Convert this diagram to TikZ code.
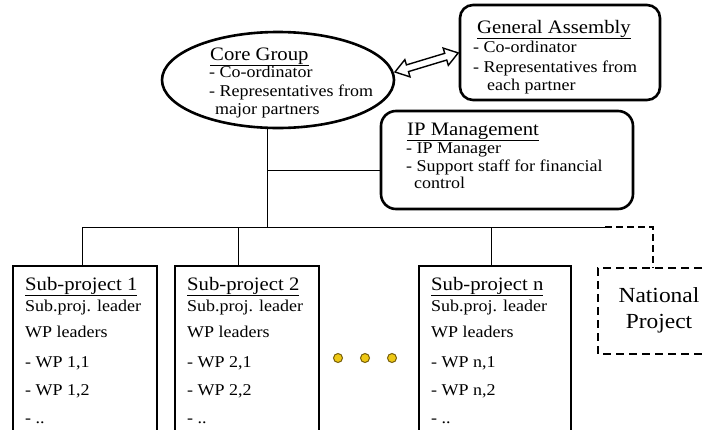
\documentclass[tikz,border=0pt]{standalone}
\usepackage{fontspec}
\setmainfont{Liberation Serif}[FakeStretch=1.09]
\usetikzlibrary{shapes.geometric}
\definecolor{dotfill}{RGB}{238,200,20}
\definecolor{dotrim}{RGB}{120,95,10}
\tikzset{
  thickline/.style={draw=black, line width=2.6pt},
  roundbox/.style={thickline, rounded corners=13pt, inner sep=0pt},
  spbox/.style={draw=black, line width=1.2pt, inner sep=0pt, minimum height=174pt},
  natline/.style={draw=black, line width=2pt, dash pattern=on 8pt off 5pt},
  conn/.style={draw=black, line width=1pt},
  dconn/.style={draw=black, line width=1.4pt, dash pattern=on 7pt off 4pt},
  txt/.style={anchor=base west, inner sep=0pt, font=\fontsize{16.5}{18}\selectfont},
  hd/.style={anchor=base west, inner sep=0pt, font=\fontsize{19}{21}\selectfont},
  nattxt/.style={anchor=base, inner sep=0pt, font=\fontsize{21.5}{24}\selectfont},
  yellowdot/.style={circle, fill=dotfill, draw=dotrim, line width=1pt, minimum size=9pt, inner sep=0pt},
  hollowarrow/.style={draw=black, line width=1.4pt, fill=white, line join=miter}
}
\begin{document}
\begin{tikzpicture}[x=1pt,y=-1pt]
\useasboundingbox (0,0) rectangle (707,429);
\clip (0,0) rectangle (707,429);
\fill[white] (0,0) rectangle (707,429);

% main shapes
\node[ellipse, thickline, minimum width=232pt, minimum height=96pt, inner sep=0pt] (core) at (278,80) {};
\node[roundbox, minimum width=200pt, minimum height=95pt] (ga) at (560,52.5) {};
\node[roundbox, rounded corners=15pt, minimum width=252pt, minimum height=98pt] (ip) at (507,160) {};
\node[spbox, minimum width=144pt] (sp1) at (85,353) {};
\node[spbox, minimum width=144pt] (sp2) at (247,353) {};
\node[spbox, minimum width=152pt] (spn) at (495,353) {};
\node[inner sep=0pt, outer sep=0pt, minimum width=130pt, minimum height=86pt, anchor=west] (nat) at (598,311) {};
\draw[natline] (nat.north east) -- (nat.north west) -- (nat.south west) -- (nat.south east);

% hollow double arrow between core group and general assembly
\coordinate (arrA) at (395,72);
\begin{scope}[shift={(arrA)}, rotate=16.8]
  \draw[hollowarrow] (0,0) -- (13,-9) -- (13,-3.5) -- (53,-3.5) -- (53,-9) -- (66,0)
    -- (53,9) -- (53,3.5) -- (13,3.5) -- (13,9) -- cycle;
\end{scope}

% connectors
\coordinate (hub) at (267,227);
\coordinate (br) at (267,170);
\coordinate (d1) at (82,227);
\coordinate (d2) at (238,227);
\coordinate (dn) at (491,227);
\coordinate (dx) at (605,227);
\coordinate (dy) at (653,227);
\draw[conn] (hub |- core.south) -- (hub);
\draw[conn] (br) -- (br -| ip.west);
\draw[conn] (d1) -- (dx);
\draw[conn] (d1) -- (d1 |- sp1.north);
\draw[conn] (d2) -- (d2 |- sp2.north);
\draw[conn] (dn) -- (dn |- spn.north);
\draw[dconn] (dx) -- (dy) -- (dy |- nat.north);

% dots
\node[yellowdot] (dot1) at (338,358) {};
\node[yellowdot] (dot2) at (365,358) {};
\node[yellowdot] (dot3) at (392,358) {};

% core group text
\node[hd] (core-h) at (210,60) {\underline{Core Group}};
\node[txt] (core-1) at (209,77) {- Co-ordinator};
\node[txt] (core-2) at (209,96) {- Representatives from};
\node[txt] (core-3) at (215,114) {major partners};

% general assembly text
\node[hd] (ga-h) at (477,33) {\underline{General Assembly}};
\node[txt] (ga-1) at (473,52) {- Co-ordinator};
\node[txt] (ga-2) at (473,72) {- Representatives from};
\node[txt] (ga-3) at (487,90) {each partner};

% IP management text
\node[hd] (ip-h) at (407,135) {\underline{IP Management}};
\node[txt] (ip-1) at (406,153) {- IP Manager};
\node[txt] (ip-2) at (406,171) {- Support staff for financial};
\node[txt] (ip-3) at (414,188) {control};

% sub-project texts
\foreach \k/\x in {1/25, 2/187, n/431} {
  \node[hd] (sp\k-h) at (\x,290) {\underline{Sub-project \k}};
  \node[txt] (sp\k-1) at (\x,311) {Sub.proj. leader};
  \node[txt] (sp\k-2) at (\x,337) {WP leaders};
  \node[txt] (sp\k-3) at (\x,367) {- WP \k,1};
  \node[txt] (sp\k-4) at (\x,395) {- WP \k,2};
  \node[txt] (sp\k-5) at (\x,423) {- ..};
}

% national project text
\node[nattxt] (nat-1) at (659,302) {National};
\node[nattxt] (nat-2) at (659,328) {Project};
\end{tikzpicture}
\end{document}
